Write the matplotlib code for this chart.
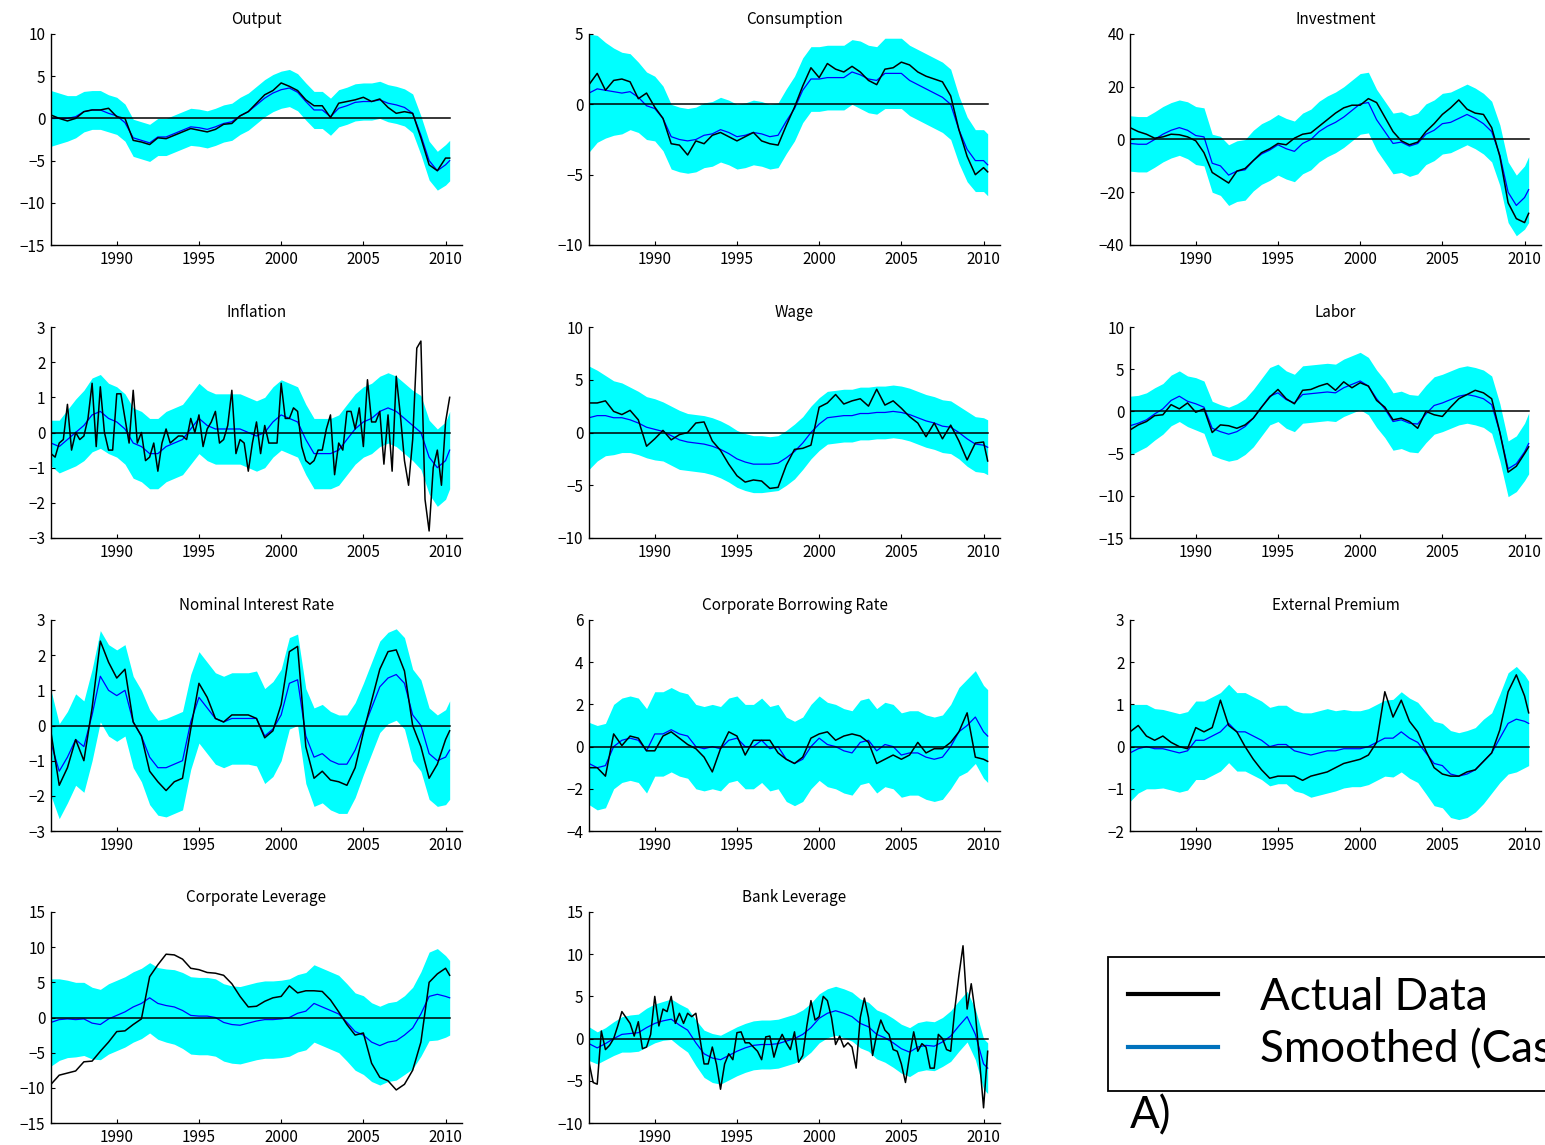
import matplotlib
matplotlib.use("Agg")
import matplotlib.pyplot as plt
from matplotlib.lines import Line2D

plt.rcParams['font.family'] = ['Noto Sans CJK JP', 'DejaVu Sans']

# ---------------- time axes ----------------
quarters = [1986.0 + 0.25 * k for k in range(98)]
halves = [1986.0 + 0.5 * k for k in range(49)] + [2010.25]

# ---------------- data ----------------
output_actual = [0.4, 0.0, -0.3, 0.0, 0.8, 1.0, 1.0, 1.2, 0.2, 0.0,
                 -2.6, -2.8, -3.1, -2.3, -2.4, -2.0, -1.6, -1.2, -1.4, -1.6,
                 -1.3, -0.7, -0.6, 0.3, 0.8, 1.8, 2.8, 3.3, 4.2, 3.8,
                 3.3, 2.2, 1.5, 1.5, 0.1, 1.8, 2.0, 2.2, 2.5, 2.0,
                 2.3, 1.3, 0.6, 0.8, 0.6, -2.3, -5.5, -6.2, -4.7, -4.7]
output_smooth = [0.0, 0.0, 0.0, 0.2, 0.8, 1.0, 1.0, 0.6, 0.3, -0.5,
                 -2.3, -2.6, -2.9, -2.2, -2.2, -1.8, -1.4, -1.0, -1.1, -1.3,
                 -1.0, -0.6, -0.4, 0.3, 0.8, 1.6, 2.4, 3.0, 3.4, 3.6,
                 3.1, 2.0, 1.0, 1.0, 0.2, 1.2, 1.5, 1.9, 2.0, 2.0,
                 2.2, 1.8, 1.6, 1.3, 0.6, -2.0, -5.0, -6.2, -5.5, -5.0]
output_band = [3.3, 3.0, 2.7, 2.5, 2.4, 2.3, 2.3, 2.2, 2.2, 2.2,
               2.2, 2.2, 2.2, 2.2, 2.2, 2.2, 2.2, 2.2, 2.2, 2.2,
               2.2, 2.2, 2.2, 2.2, 2.2, 2.2, 2.2, 2.2, 2.2, 2.2,
               2.2, 2.2, 2.2, 2.2, 2.2, 2.2, 2.2, 2.2, 2.2, 2.2,
               2.2, 2.2, 2.2, 2.2, 2.3, 2.3, 2.3, 2.3, 2.4, 2.4]

cons_actual = [1.4, 2.2, 1.0, 1.7, 1.8, 1.6, 0.4, 0.8, -0.2, -1.0,
               -2.8, -2.9, -3.6, -2.6, -2.8, -2.2, -2.0, -2.3, -2.6, -2.3,
               -2.0, -2.6, -2.8, -2.9, -1.5, -0.2, 1.3, 2.6, 1.9, 2.9,
               2.5, 2.3, 2.7, 2.3, 1.7, 1.4, 2.5, 2.6, 3.0, 2.8,
               2.3, 2.0, 1.8, 1.6, 0.6, -1.8, -3.7, -5.0, -4.5, -4.8]
cons_smooth = [0.8, 1.1, 1.0, 0.9, 0.8, 0.9, 0.5, -0.1, -0.3, -1.0,
               -2.3, -2.5, -2.6, -2.5, -2.2, -2.1, -1.8, -2.0, -2.3, -2.2,
               -2.0, -2.1, -2.3, -2.2, -1.2, -0.3, 1.0, 1.8, 1.8, 1.9,
               1.9, 1.9, 2.3, 2.1, 1.8, 1.7, 2.2, 2.2, 2.2, 1.7,
               1.4, 1.1, 0.8, 0.5, 0.0, -1.8, -3.2, -4.0, -4.0, -4.3]
cons_band = [4.2, 3.8, 3.4, 3.1, 2.9, 2.7, 2.5, 2.4, 2.3, 2.3,
             2.3, 2.3, 2.3, 2.3, 2.3, 2.3, 2.3, 2.3, 2.3, 2.3,
             2.3, 2.3, 2.3, 2.3, 2.3, 2.3, 2.3, 2.3, 2.3, 2.3,
             2.3, 2.3, 2.3, 2.4, 2.4, 2.4, 2.5, 2.5, 2.5, 2.5,
             2.5, 2.5, 2.5, 2.5, 2.5, 2.4, 2.3, 2.2, 2.2, 2.2]

inv_actual = [4.5, 3.0, 2.0, 0.5, 1.0, 2.0, 1.8, 1.0, -0.5, -5.0,
              -12.5, -14.5, -16.5, -12.0, -11.0, -8.0, -5.0, -3.5, -1.5, -2.0,
              0.5, 2.0, 2.5, 5.0, 7.5, 10.0, 12.0, 13.0, 13.0, 15.5,
              14.0, 8.5, 3.0, -0.5, -2.0, -1.0, 3.0, 6.0, 9.5, 12.0,
              15.0, 11.5, 10.0, 9.5, 4.5, -6.5, -24.0, -30.0, -31.5, -28.0]
inv_smooth = [-1.5, -1.8, -1.8, 0.0, 2.0, 3.5, 4.5, 3.5, 1.5, 1.0,
              -9.0, -10.0, -13.5, -12.0, -11.5, -8.0, -5.5, -4.0, -2.0, -3.5,
              -4.5, -1.5, 0.0, 3.0, 5.0, 6.5, 8.5, 11.0, 13.5, 14.0,
              7.5, 3.0, -1.5, -1.0, -2.5, -1.5, 2.0, 3.5, 6.0, 6.5,
              8.0, 9.5, 8.0, 6.0, 3.0, -6.0, -20.0, -25.0, -22.0, -19.0]
inv_band = [10.5, 10.5, 10.5, 10.5, 10.5, 10.5, 10.5, 10.8, 11.0, 11.0,
            11.0, 11.2, 11.5, 11.5, 11.5, 11.5, 11.5, 11.5, 11.5, 11.5,
            11.5, 11.5, 11.5, 11.5, 11.5, 11.5, 11.5, 11.5, 11.5, 11.5,
            11.5, 11.5, 11.5, 11.5, 11.5, 11.5, 11.5, 11.5, 11.5, 11.5,
            11.5, 11.5, 11.5, 11.5, 11.5, 11.5, 11.5, 11.5, 12.0, 12.5]

infl_actual = [-0.6, -0.7, -0.3, -0.2, 0.8, -0.5, 0.0, -0.2, -0.1, 0.4,
               1.4, -0.4, 1.3, 0.0, -0.5, -0.5, 1.1, 1.1, 0.4, -0.3,
               1.2, -0.3, 0.0, -0.8, -0.7, -0.3, -1.1, -0.3, 0.1, -0.3,
               -0.2, -0.1, -0.1, -0.2, 0.4, 0.0, 0.5, -0.4, 0.1, 0.3,
               0.6, -0.3, -0.2, 0.2, 1.2, -0.6, -0.2, -0.3, -1.1, -0.3,
               0.3, -0.6, 0.2, -0.3, -0.3, -0.3, 1.4, 0.4, 0.4, 0.7,
               0.6, -0.4, -0.8, -0.9, -0.8, -0.5, -0.5, 0.1, 0.5, -1.2,
               -0.3, -0.5, 0.6, 0.6, 0.1, 0.7, -0.4, 1.5, 0.3, 0.3,
               0.6, -0.9, 0.5, -1.1, 1.6, 0.5, -0.8, -1.5, -0.2, 2.4,
               2.6, -1.9, -2.8, -1.0, -0.5, -1.5, 0.3, 1.0]
infl_smooth = [-0.3, -0.4, -0.2, 0.0, 0.2, 0.5, 0.6, 0.4, 0.3, 0.1,
               -0.3, -0.4, -0.6, -0.6, -0.4, -0.3, -0.2, 0.1, 0.4, 0.2,
               0.1, 0.1, 0.1, 0.1, 0.0, -0.1, 0.0, 0.3, 0.5, 0.4,
               0.3, -0.2, -0.6, -0.6, -0.6, -0.5, -0.2, 0.1, 0.3, 0.4,
               0.6, 0.7, 0.6, 0.4, 0.2, 0.0, -0.7, -1.0, -0.8, -0.5]
infl_band = [0.65, 0.75, 0.85, 0.95, 1.0, 1.05, 1.05, 1.0, 1.0, 1.0,
             1.0, 1.0, 1.0, 1.0, 1.0, 1.0, 1.0, 1.0, 1.0, 1.0,
             1.0, 1.0, 1.0, 1.0, 1.0, 1.0, 1.0, 1.0, 1.0, 1.0,
             1.0, 1.0, 1.0, 1.0, 1.0, 1.0, 1.0, 1.0, 1.0, 1.0,
             1.0, 1.0, 1.0, 1.0, 1.0, 1.05, 1.05, 1.1, 1.1, 1.1]

wage_actual = [2.8, 2.8, 3.0, 2.0, 1.7, 2.1, 1.2, -1.3, -0.6, 0.2,
               -0.7, -0.2, 0.0, 0.9, 1.0, -0.8, -1.7, -3.0, -4.1, -4.7,
               -4.5, -4.6, -5.3, -5.2, -3.1, -1.6, -1.5, -1.2, 2.4, 2.8,
               3.6, 2.7, 3.0, 3.2, 2.5, 4.1, 2.6, 3.0, 2.3, 1.5,
               0.9, -0.4, 0.9, -0.6, 0.7, -0.8, -2.6, -1.0, -0.9, -2.7]
wage_smooth = [1.4, 1.6, 1.6, 1.4, 1.4, 1.2, 0.9, 0.5, 0.3, 0.1,
               -0.3, -0.7, -0.9, -1.0, -1.1, -1.3, -1.6, -2.0, -2.5, -2.8,
               -3.0, -3.0, -3.0, -2.9, -2.4, -1.8, -1.0, 0.0, 0.8, 1.4,
               1.5, 1.6, 1.6, 1.8, 1.8, 1.9, 1.9, 2.0, 1.9, 1.7,
               1.4, 1.1, 0.9, 0.6, 0.5, 0.0, -0.6, -1.1, -1.2, -1.4]
wage_band = [4.9, 4.3, 3.8, 3.5, 3.3, 3.1, 3.0, 2.9, 2.9, 2.8,
             2.8, 2.8, 2.7, 2.7, 2.7, 2.7, 2.7, 2.7, 2.7, 2.7,
             2.7, 2.7, 2.6, 2.6, 2.6, 2.6, 2.5, 2.5, 2.5, 2.5,
             2.5, 2.5, 2.5, 2.5, 2.5, 2.5, 2.5, 2.5, 2.5, 2.5,
             2.5, 2.5, 2.5, 2.5, 2.5, 2.5, 2.6, 2.6, 2.6, 2.6]

labor_actual = [-2.2, -1.6, -1.2, -0.5, -0.4, 0.8, 0.3, 1.0, -0.1, 0.3,
                -2.5, -1.6, -1.7, -2.0, -1.6, -0.8, 0.5, 1.7, 2.6, 1.5,
                0.9, 2.5, 2.6, 3.0, 3.3, 2.5, 3.5, 2.8, 3.4, 3.0,
                1.3, 0.5, -1.0, -0.8, -1.2, -2.0, 0.0, -0.4, -0.6, 0.5,
                1.5, 2.0, 2.5, 2.2, 1.5, -2.5, -7.2, -6.5, -5.0, -4.2]
labor_smooth = [-1.7, -1.4, -1.0, -0.3, 0.3, 1.3, 1.8, 1.2, 0.9, 0.5,
                -2.0, -2.4, -2.7, -2.4, -1.8, -0.8, 0.5, 1.8, 2.2, 1.4,
                1.0, 2.0, 2.1, 2.2, 2.3, 2.2, 2.8, 3.2, 3.6, 3.0,
                1.5, 0.3, -1.2, -1.0, -1.4, -1.5, -0.3, 0.7, 1.0, 1.4,
                1.8, 2.0, 1.8, 1.5, 0.8, -2.5, -6.8, -6.2, -4.8, -3.8]
labor_band = [3.5, 3.3, 3.2, 3.1, 3.0, 3.0, 3.0, 3.0, 3.1, 3.1,
              3.2, 3.2, 3.2, 3.3, 3.3, 3.4, 3.4, 3.4, 3.4, 3.4,
              3.4, 3.4, 3.4, 3.4, 3.4, 3.4, 3.4, 3.4, 3.4, 3.4,
              3.4, 3.4, 3.4, 3.4, 3.4, 3.4, 3.4, 3.4, 3.4, 3.4,
              3.4, 3.4, 3.4, 3.4, 3.4, 3.4, 3.3, 3.3, 3.4, 3.6]

rate_actual = [-0.2, -1.7, -1.2, -0.4, -1.0, 0.5, 2.4, 1.8, 1.35, 1.6,
               0.1, -0.3, -1.3, -1.6, -1.85, -1.6, -1.5, -0.1, 1.2, 0.8,
               0.2, 0.1, 0.3, 0.3, 0.3, 0.2, -0.35, -0.15, 0.6, 2.1,
               2.25, -0.6, -1.5, -1.3, -1.55, -1.6, -1.7, -1.2, -0.2, 0.7,
               1.6, 2.1, 2.15, 1.55, 0.0, -0.6, -1.5, -1.1, -0.4, -0.15]
rate_smooth = [-0.5, -1.3, -0.9, -0.4, -0.6, 0.3, 1.4, 1.0, 0.85, 1.0,
               0.1, -0.3, -0.9, -1.2, -1.2, -1.1, -1.0, 0.1, 0.8, 0.5,
               0.2, 0.1, 0.2, 0.2, 0.2, 0.2, -0.3, -0.1, 0.3, 1.2,
               1.3, -0.3, -0.9, -0.8, -1.0, -1.1, -1.1, -0.7, -0.1, 0.5,
               1.1, 1.35, 1.45, 1.2, 0.3, 0.0, -0.8, -1.0, -0.9, -0.7]
rate_band = [1.5, 1.35, 1.3, 1.3, 1.3, 1.3, 1.3, 1.3, 1.3, 1.3,
             1.3, 1.3, 1.35, 1.35, 1.4, 1.4, 1.4, 1.35, 1.3, 1.3,
             1.3, 1.3, 1.3, 1.3, 1.3, 1.35, 1.35, 1.35, 1.3, 1.3,
             1.3, 1.35, 1.4, 1.4, 1.4, 1.4, 1.4, 1.35, 1.3, 1.3,
             1.3, 1.3, 1.3, 1.3, 1.3, 1.3, 1.3, 1.3, 1.35, 1.4]

cbr_actual = [-1.0, -1.0, -1.4, 0.6, 0.05, 0.5, 0.4, -0.2, -0.2, 0.5,
              0.7, 0.4, 0.1, -0.1, -0.5, -1.2, -0.1, 0.7, 0.5, -0.4,
              0.3, 0.3, 0.3, -0.3, -0.6, -0.8, -0.5, 0.4, 0.6, 0.7,
              0.3, 0.5, 0.6, 0.5, 0.2, -0.8, -0.6, -0.4, -0.6, -0.4,
              0.2, -0.3, -0.1, -0.1, 0.2, 0.7, 1.6, -0.5, -0.6, -0.7]
cbr_smooth = [-0.8, -1.0, -0.9, 0.0, 0.3, 0.4, 0.3, -0.2, 0.6, 0.6,
              0.8, 0.6, 0.5, 0.0, -0.1, 0.0, -0.1, 0.3, 0.4, 0.0,
              0.0, 0.3, -0.1, 0.0, -0.6, -0.8, -0.6, 0.0, 0.4, 0.1,
              0.0, -0.2, -0.3, 0.2, 0.3, -0.2, 0.1, 0.0, -0.4, -0.3,
              -0.3, -0.5, -0.6, -0.5, 0.0, 0.7, 1.0, 1.4, 0.7, 0.5]
cbr_band = [1.95, 2.0, 2.0, 2.0, 2.0, 2.0, 2.0, 2.0, 2.0, 2.0,
            2.0, 2.0, 2.0, 2.0, 2.0, 2.0, 2.0, 2.0, 2.0, 2.0,
            2.0, 2.0, 2.0, 2.0, 2.0, 2.0, 2.0, 2.0, 2.0, 2.0,
            2.0, 2.0, 2.0, 2.0, 2.0, 2.0, 2.0, 2.0, 2.0, 2.0,
            2.0, 2.0, 2.0, 2.0, 2.0, 2.1, 2.2, 2.2, 2.2, 2.2]

prem_actual = [0.35, 0.5, 0.25, 0.15, 0.25, 0.1, 0.0, -0.05, 0.45, 0.35,
               0.45, 1.1, 0.5, 0.35, 0.0, -0.3, -0.55, -0.75, -0.7, -0.7,
               -0.7, -0.8, -0.7, -0.65, -0.6, -0.5, -0.4, -0.35, -0.3, -0.2,
               0.1, 1.3, 0.7, 1.1, 0.6, 0.35, -0.1, -0.5, -0.65, -0.7,
               -0.7, -0.6, -0.55, -0.35, -0.15, 0.4, 1.3, 1.7, 1.2, 0.8]
prem_smooth = [-0.15, -0.05, 0.0, -0.05, -0.05, -0.1, -0.15, -0.1, 0.15, 0.15,
               0.25, 0.35, 0.55, 0.35, 0.35, 0.25, 0.15, 0.0, 0.05, 0.05,
               -0.1, -0.15, -0.2, -0.15, -0.1, -0.1, -0.05, -0.05, -0.05, 0.0,
               0.1, 0.2, 0.2, 0.35, 0.2, 0.1, -0.15, -0.4, -0.45, -0.65,
               -0.7, -0.65, -0.55, -0.35, -0.15, 0.2, 0.55, 0.65, 0.6, 0.55]
prem_band = [1.15, 1.05, 1.0, 0.95, 0.93, 0.93, 0.93, 0.93, 0.93, 0.93,
             0.93, 0.93, 0.93, 0.93, 0.93, 0.93, 0.93, 0.93, 0.93, 0.93,
             0.95, 0.95, 1.0, 1.0, 1.0, 0.95, 0.93, 0.9, 0.9, 0.9,
             0.9, 0.9, 0.92, 0.95, 0.95, 0.95, 0.97, 1.0, 1.0, 1.03,
             1.03, 1.03, 1.0, 1.0, 0.95, 1.05, 1.2, 1.25, 1.1, 1.0]

clev_actual = [-9.5, -8.2, -7.9, -7.6, -6.3, -6.2, -4.8, -3.5, -2.0, -1.9,
               -1.0, -0.2, 5.8, 7.5, 9.0, 8.9, 8.3, 7.0, 6.8, 6.4,
               6.3, 6.0, 4.8, 3.0, 1.5, 1.6, 2.3, 2.8, 3.0, 4.5,
               3.5, 3.8, 3.8, 3.7, 2.5, 0.8, -1.0, -2.5, -2.2, -6.5,
               -8.5, -9.0, -10.3, -9.5, -7.5, -3.5, 5.0, 6.2, 7.0, 6.0]
clev_smooth = [-0.7, -0.3, -0.2, -0.3, -0.2, -0.8, -1.0, -0.2, 0.3, 0.8,
               1.5, 2.0, 2.8, 2.0, 1.7, 1.5, 1.0, 0.3, 0.2, 0.2,
               0.0, -0.7, -1.0, -1.1, -0.8, -0.5, -0.3, -0.3, -0.2, 0.0,
               0.6, 0.9, 2.0, 1.5, 1.0, 0.5, -0.7, -2.0, -2.5, -3.5,
               -4.0, -3.5, -3.3, -2.5, -1.5, 0.5, 3.0, 3.3, 3.0, 2.8]
clev_band = [6.2, 5.8, 5.5, 5.3, 5.2, 5.1, 5.0, 5.0, 5.0, 5.0,
             5.0, 5.0, 5.0, 5.1, 5.2, 5.3, 5.4, 5.5, 5.5, 5.5,
             5.5, 5.5, 5.5, 5.5, 5.5, 5.5, 5.5, 5.5, 5.5, 5.5,
             5.5, 5.5, 5.5, 5.5, 5.5, 5.5, 5.5, 5.5, 5.6, 5.6,
             5.6, 5.6, 5.6, 5.6, 5.8, 6.0, 6.3, 6.5, 5.8, 5.3]

blev_actual = [-2.8, -5.2, -5.4, 0.9, -1.3, -0.8, 0.0, 1.5, 3.2, 2.5,
               1.8, 0.3, 2.0, -1.2, -1.0, 0.5, 5.0, 1.5, 3.5, 3.2,
               5.0, 1.8, 3.0, 1.8, 3.0, 2.6, 3.0, 0.0, -3.0, -3.0,
               -1.0, -3.0, -6.0, -3.0, -1.8, -2.5, 0.7, 0.8, -0.5, -0.5,
               -1.0, -1.5, -2.5, 0.2, 0.3, -2.2, -0.5, 0.5, -0.5, -1.3,
               0.8, -2.8, -2.0, 1.5, 4.5, 2.2, 2.6, 5.0, 4.5, 2.5,
               -0.7, 0.3, -1.0, -0.5, -1.0, -3.5, 2.5, 4.8, 2.5, -2.0,
               0.5, 2.2, 1.0, 0.5, -1.3, -1.5, -3.0, -5.2, -2.0, 0.8,
               -1.5, -0.6, -1.0, -3.5, -3.5, 0.5, 0.0, -1.3, -1.5, 3.5,
               7.5, 11.0, 3.5, 6.5, 3.0, -2.5, -8.2, -1.5]
blev_smooth = [-0.6, -1.1, -0.6, 0.0, 0.5, 0.6, 0.7, 1.3, 1.8, 2.1,
               2.3, 1.6, 1.0, -0.5, -1.8, -2.3, -2.5, -2.0, -1.5, -1.1,
               -0.8, -0.7, -0.7, -0.6, -0.3, 0.0, 0.5, 1.3, 2.4, 3.0,
               3.3, 3.0, 2.6, 1.8, 1.4, 0.5, 0.1, -0.5, -1.2, -1.6,
               -1.0, -0.8, -0.9, -0.4, 0.3, 1.5, 2.6, 0.5, -3.0, -3.5]
blev_band = [2.0, 1.9, 1.9, 2.0, 2.1, 2.2, 2.2, 2.3, 2.3, 2.3,
             2.4, 2.5, 2.6, 2.7, 2.8, 2.9, 2.9, 2.9, 2.9, 2.9,
             2.9, 2.9, 2.9, 2.9, 2.9, 2.9, 2.9, 2.9, 2.9, 2.9,
             2.9, 2.9, 2.9, 2.9, 2.9, 2.9, 2.9, 2.9, 2.9, 2.9,
             2.9, 2.9, 2.9, 2.9, 3.0, 3.0, 3.0, 3.0, 3.0, 3.0]

titles = ["Output", "Consumption", "Investment",
          "Inflation", "Wage", "Labor",
          "Nominal Interest Rate", "Corporate Borrowing Rate", "External Premium",
          "Corporate Leverage", "Bank Leverage"]
y_limits = [(-15, 10), (-10, 5), (-40, 40),
            (-3, 3), (-10, 10), (-15, 10),
            (-3, 3), (-4, 6), (-2, 3),
            (-15, 15), (-10, 15)]
y_steps = [5, 5, 20, 1, 5, 5, 1, 2, 1, 5, 5]
x_ticks = [1990, 1995, 2000, 2005, 2010]
legend_labels = ["Actual Data", "Smoothed (Case A)"]

panels = [
    (halves, output_actual, output_smooth, output_band),
    (halves, cons_actual, cons_smooth, cons_band),
    (halves, inv_actual, inv_smooth, inv_band),
    (quarters, infl_actual, infl_smooth, infl_band),
    (halves, wage_actual, wage_smooth, wage_band),
    (halves, labor_actual, labor_smooth, labor_band),
    (halves, rate_actual, rate_smooth, rate_band),
    (halves, cbr_actual, cbr_smooth, cbr_band),
    (halves, prem_actual, prem_smooth, prem_band),
    (halves, clev_actual, clev_smooth, clev_band),
    (quarters, blev_actual, blev_smooth, blev_band),
]

# ---------------- figure ----------------
W, H = 1545, 1145
fig = plt.figure(figsize=(W / 100, H / 100), dpi=100)

col_left = [51, 589, 1130]
row_top = [34, 327, 620, 912]
ax_w, ax_h = 411, 211

for i, (xa, act, smo, band) in enumerate(panels):
    r, c = divmod(i, 3)
    ax = fig.add_axes([col_left[c] / W, 1 - (row_top[r] + ax_h) / H, ax_w / W, ax_h / H])
    lo = [s - b for s, b in zip(smo, band)]
    hi = [s + b for s, b in zip(smo, band)]
    ax.fill_between(halves, lo, hi, color='#00FFFF', lw=0, zorder=1)
    ax.plot(halves, smo, color='#0000FF', lw=0.9, zorder=2)
    ax.plot(xa, act, color='black', lw=1.1, zorder=3)
    ax.plot([halves[0], halves[-1]], [0, 0], color='black', lw=1.1, zorder=4)
    ax.set_xlim(1986.0, 2011.0)
    y0, y1 = y_limits[i]
    ax.set_ylim(y0, y1)
    ax.set_yticks(list(range(y0, y1 + 1, y_steps[i])))
    ax.set_xticks(x_ticks)
    ax.spines['top'].set_visible(False)
    ax.spines['right'].set_visible(False)
    for s in ('left', 'bottom'):
        ax.spines[s].set_linewidth(1.0)
    ax.tick_params(direction='in', length=3, width=0.8, labelsize=11, pad=4)
    ax.set_title(titles[i], fontsize=11, pad=7)

handles = [Line2D([], [], color='black', lw=3.0),
           Line2D([], [], color='#0072BD', lw=3.0)]
leg = fig.legend(handles, legend_labels, loc='upper left',
                 bbox_to_anchor=(1108 / W, 1 - 957 / H), bbox_transform=fig.transFigure,
                 borderaxespad=0, prop={'family': 'Lato', 'size': 31.7},
                 handlelength=2.05, handletextpad=0.95, borderpad=0.45,
                 labelspacing=0.27, fancybox=False, edgecolor='black', framealpha=1)
leg.get_frame().set_linewidth(1.3)
fig.text(1130 / W, 1 - 1116 / H, "A)", fontsize=31.7, family='Lato', va='center', ha='left')

fig.savefig("out.png", dpi=100)
